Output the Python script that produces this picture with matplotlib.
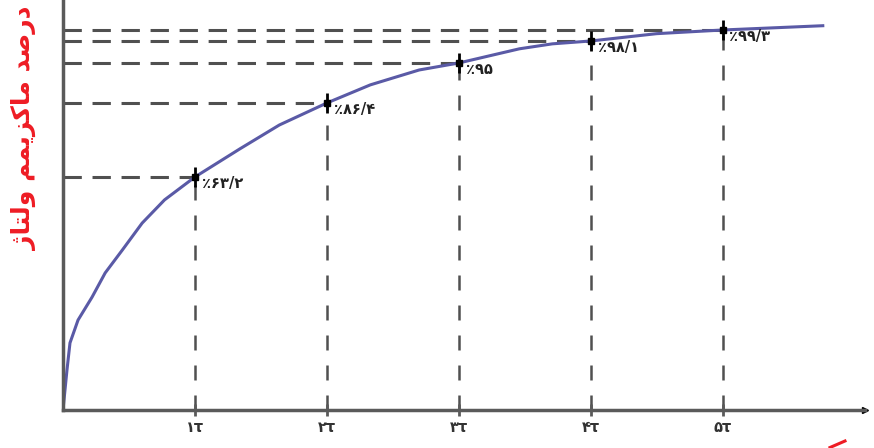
import matplotlib
matplotlib.use("Agg")
import numpy as np
import matplotlib.pyplot as plt
from matplotlib.lines import Line2D

# time constants and the percentages marked on the curve
taus = [1, 2, 3, 4, 5]
percents = [63.2, 86.4, 95, 98.1, 99.3]
point_labels = ['٪۶۳/۲', '٪۸۶/۴', '٪۹۵', '٪۹۸/۱', '٪۹۹/۳']
tick_labels = ['۱τ', '۲τ', '۳τ', '۴τ', '۵τ']

# charging curve (t in tau, value in %)
curve_t = [0, 0.03, 0.053, 0.114, 0.22, 0.32, 0.45, 0.6, 0.77, 1.0,
           1.34, 1.64, 2.0, 2.33, 2.7, 3.0, 3.46, 3.71, 4.0, 4.5, 5.0, 5.76]
curve_v = [0, 10.8, 18.2, 24.4, 30.6, 37.2, 43.4, 50.7, 57.0, 63.2,
           72.0, 79.5, 86.4, 90.3, 93.5, 95.0, 97.0, 97.7, 98.1, 98.9, 99.3, 99.8]

ylabel_text = 'درصد ماکزیمم ولتاژ'

# the drawing is not to scale vertically: stretch the top part like the original
scale_v = [0, 63.2, 86.4, 95, 98.1, 99.3, 100, 104]
scale_h = [0, 233, 307, 347, 369, 380, 386, 410]

# small Persian shaper (matplotlib does not shape Arabic script)
FORMS = {
    'د': ('\uFEA9', '\uFEAA'), 'ر': ('\uFEAD', '\uFEAE'),
    'ز': ('\uFEAF', '\uFEB0'), 'ژ': ('\uFB8A', '\uFB8B'),
    'ا': ('\uFE8D', '\uFE8E'), 'و': ('\uFEED', '\uFEEE'),
    'ص': ('\uFEB9', '\uFEBA', '\uFEBB', '\uFEBC'),
    'م': ('\uFEE1', '\uFEE2', '\uFEE3', '\uFEE4'),
    'ک': ('\uFB8E', '\uFB8F', '\uFB90', '\uFB91'),
    'ی': ('\uFBFC', '\uFBFD', '\uFBFE', '\uFBFF'),
    'ل': ('\uFEDD', '\uFEDE', '\uFEDF', '\uFEE0'),
    'ت': ('\uFE95', '\uFE96', '\uFE97', '\uFE98'),
}


def shape(s):
    out = []
    for i, c in enumerate(s):
        if c not in FORMS:
            out.append(c)
            continue
        prev = s[i - 1] if i > 0 else ''
        nxt = s[i + 1] if i + 1 < len(s) else ''
        jp = prev in FORMS and len(FORMS[prev]) == 4
        jn = len(FORMS[c]) == 4 and nxt in FORMS
        f = FORMS[c]
        if jp and jn:
            out.append(f[3])
        elif jp:
            out.append(f[1])
        elif jn:
            out.append(f[2])
        else:
            out.append(f[0])
    return ''.join(out)[::-1]


plt.rcParams['font.family'] = ['DejaVu Sans']

fig = plt.figure(figsize=(8.74, 4.48), dpi=100)
ax = fig.add_axes([63 / 874, 38 / 448, (865 - 63) / 874, 410 / 448])
ax.set_yscale('function', functions=(lambda v: np.interp(v, scale_v, scale_h),
                                     lambda h: np.interp(h, scale_h, scale_v)))
ax.set_xlim(0, 6.08)
ax.set_ylim(0, 104)

gray = '#505050'
for t, p in zip(taus, percents):
    ax.plot([0, t], [p, p], color=gray, lw=2.2, dashes=(6, 3.5), zorder=1)
    ax.plot([t, t], [0, p], color=gray, lw=1.8, dashes=(6, 6), zorder=1)

ax.plot(curve_t, curve_v, color='#5a5aa6', lw=2.2, zorder=2)

ax.plot(taus, percents, 's', color='black', ms=4.5, zorder=3)
ax.plot(taus, percents, '|', color='black', ms=14, mew=2, zorder=3)

for t, p, lab in zip(taus, percents, point_labels):
    ax.annotate(lab, (t, p), xytext=(5, -5), textcoords='offset points',
                ha='left', va='center', fontsize=10.5, fontweight='bold',
                color='#222222')

for s in ['top', 'right']:
    ax.spines[s].set_visible(False)
for s in ['left', 'bottom']:
    ax.spines[s].set_color('#5a5a5a')
    ax.spines[s].set_linewidth(2.5)

ax.set_xticks(taus)
ax.set_xticklabels(tick_labels, fontsize=10.5, fontweight='bold', color='#333333')
ax.tick_params(axis='x', direction='inout', length=8, width=2, color='#5a5a5a', pad=3)
ax.set_yticks([])
ax.minorticks_off()

# arrow head on the time axis
ax.plot(1, 0, '>', color='black', ms=5, transform=ax.get_yaxis_transform(), clip_on=False)

fig.text(24 / 874, 1 - 128 / 448, shape(ylabel_text), rotation=90,
         ha='center', va='center', fontsize=18, fontweight='bold', color='#ee1c24')

# red stroke at the bottom right corner
fig.add_artist(Line2D([830 / 874, 845 / 874], [0.5 / 448, 7 / 448],
                      color='#ee1c24', lw=2.2))

fig.savefig('out.png', dpi=100)
